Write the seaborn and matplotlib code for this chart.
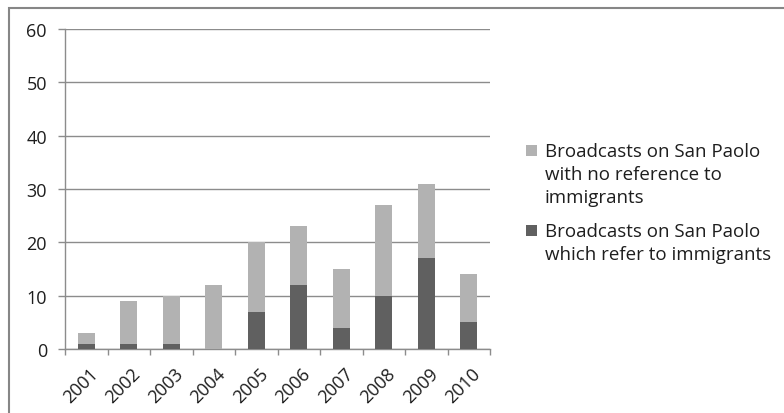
import matplotlib
matplotlib.use("Agg")
import matplotlib.pyplot as plt
from matplotlib.patches import Rectangle
from matplotlib.transforms import ScaledTranslation
import seaborn as sns
import pandas as pd

years = ["2001", "2002", "2003", "2004", "2005", "2006", "2007", "2008", "2009", "2010"]
refer_immigrants = [1, 1, 1, 0, 7, 12, 4, 10, 17, 5]
no_reference = [2, 8, 9, 12, 13, 11, 11, 17, 14, 9]
y_ticks = [0, 10, 20, 30, 40, 50, 60]
legend_lines = [
    ["Broadcasts on San Paolo", "with no reference to", "immigrants"],
    ["Broadcasts on San Paolo", "which refer to immigrants"],
]

dark = "#606060"
light = "#b2b2b2"
grid = "#8c8c8c"
text = "#1e1e1e"
W, H = 784, 414

sns.set_theme(style="white")
plt.rcParams["font.family"] = ["Open Sans", "DejaVu Sans"]

df = pd.DataFrame({"year": years, "refer": refer_immigrants, "none": no_reference})
df["total"] = df["refer"] + df["none"]

fig = plt.figure(figsize=(W / 100, H / 100), dpi=100)
ax = fig.add_axes([65 / W, 64 / H, 425 / W, 320 / H])

# stacked bars: full height in light grey, lower segment in dark grey
sns.barplot(data=df, x="year", y="total", color=light, width=0.4, saturation=1,
            ax=ax, zorder=3, linewidth=0)
sns.barplot(data=df, x="year", y="refer", color=dark, width=0.4, saturation=1,
            ax=ax, zorder=4, linewidth=0)

ax.set_xlim(-0.5, len(years) - 0.5)
ax.set_ylim(0, 60)
ax.set_yticks(y_ticks)
ax.yaxis.grid(True, color=grid, linewidth=1, zorder=0)
ax.set_axisbelow(True)
ax.set_xlabel("")
ax.set_ylabel("")

for side in ("top", "right"):
    ax.spines[side].set_visible(False)
for side in ("left", "bottom"):
    ax.spines[side].set_color(grid)
    ax.spines[side].set_linewidth(1)

ax.tick_params(axis="y", which="major", left=True, length=5, color=grid, width=1,
               labelsize=13, labelcolor=text, pad=8)
ax.tick_params(axis="x", which="major", bottom=False, labelsize=13,
               labelcolor=text, pad=2)
ax.set_xticks([i - 0.5 for i in range(len(years) + 1)], minor=True)
ax.tick_params(axis="x", which="minor", bottom=True, length=4.5, color=grid, width=1)
shift = ScaledTranslation(9 / 100, -10 / 100, fig.dpi_scale_trans)
for lbl in ax.get_xticklabels():
    lbl.set_rotation(45)
    lbl.set_ha("right")
    lbl.set_va("center")
    lbl.set_rotation_mode("anchor")
    lbl.set_transform(lbl.get_transform() + shift)

# legend: square swatch beside the first line of each entry
entries = [(light, [157, 180, 203]), (dark, [237, 260])]
for (color, baselines), lines in zip(entries, legend_lines):
    top = baselines[0] - 11
    fig.patches.append(Rectangle((526 / W, 1 - (top + 11) / H), 11 / W, 11 / H,
                                 transform=fig.transFigure, facecolor=color,
                                 edgecolor="none"))
    for y, line in zip(baselines, lines):
        fig.text(545 / W, 1 - y / H, line, fontsize=13.5, color=text,
                 ha="left", va="baseline")

# chart area border
fig.patches.append(Rectangle((9 / W, -0.1), 1.1, 1 - 9 / H + 0.1,
                             transform=fig.transFigure, fill=False,
                             edgecolor="#868686", linewidth=1.5))

fig.savefig("out.png", dpi=100)
